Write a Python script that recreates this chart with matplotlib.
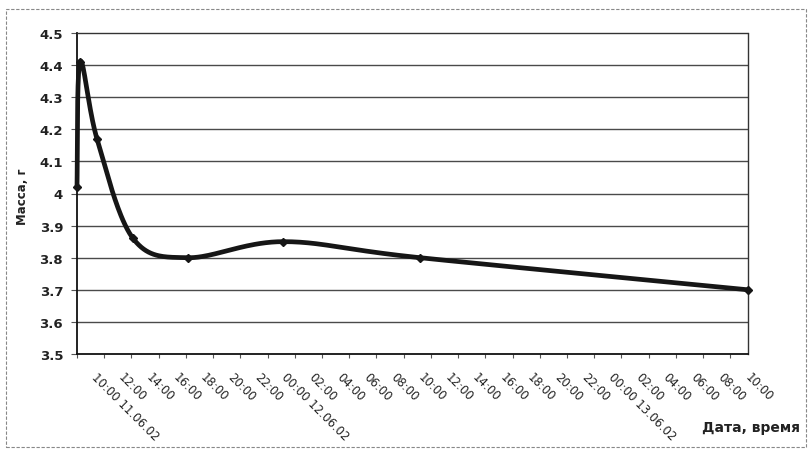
import matplotlib
matplotlib.use("Agg")
import matplotlib.pyplot as plt
import numpy as np
from matplotlib.transforms import ScaledTranslation
from matplotlib.patches import Rectangle

# Sample mass over time; time is counted in hours from 11.06.02 10:00
hours = [0.0, 0.22, 1.47, 4.12, 8.16, 15.15, 25.2, 49.3]
mass = [4.02, 4.41, 4.17, 3.86, 3.80, 3.85, 3.80, 3.70]

tick_hours = list(range(0, 49, 2))
tick_labels = [
    "10:00 11.06.02", "12:00", "14:00", "16:00", "18:00", "20:00", "22:00",
    "00:00 12.06.02", "02:00", "04:00", "06:00", "08:00", "10:00", "12:00",
    "14:00", "16:00", "18:00", "20:00", "22:00",
    "00:00 13.06.02", "02:00", "04:00", "06:00", "08:00", "10:00",
]

y_ticks = [3.5, 3.6, 3.7, 3.8, 3.9, 4.0, 4.1, 4.2, 4.3, 4.4, 4.5]
y_tick_labels = ["3.5", "3.6", "3.7", "3.8", "3.9", "4", "4.1", "4.2", "4.3", "4.4", "4.5"]

x_title = "Дата, время"
y_title = "Масса, г"


def smooth_curve(x, y, n=40):
    """Cubic Bezier smoothing through every point (Catmull-Rom style)."""
    pts = np.column_stack([x, y]).astype(float)
    ext = np.vstack([pts[0], pts, pts[-1]])
    t = np.linspace(0, 1, n)[:, None]
    parts = []
    for i in range(len(pts) - 1):
        p0, p1, p2, p3 = ext[i], ext[i + 1], ext[i + 2], ext[i + 3]
        c1 = p1 + (p2 - p0) / 6.0
        c2 = p2 - (p3 - p1) / 6.0
        seg = ((1 - t) ** 3) * p1 + 3 * ((1 - t) ** 2) * t * c1 \
            + 3 * (1 - t) * (t ** 2) * c2 + (t ** 3) * p2
        parts.append(seg if i == 0 else seg[1:])
    return np.vstack(parts)


W, H = 812, 452
fig = plt.figure(figsize=(W / 100, H / 100), dpi=100)
fig.patch.set_facecolor("white")

left, right, top, bottom = 77, 748, 34, 355
ax = fig.add_axes([left / W, 1 - bottom / H, (right - left) / W, (bottom - top) / H])
ax.set_facecolor("white")

ax.set_xlim(hours[0], hours[-1])
ax.set_ylim(y_ticks[0], y_ticks[-1])

# horizontal gridlines inside the plot area
for yv in y_ticks[1:-1]:
    ax.axhline(yv, color="#4a4a4a", lw=1.0, zorder=1)

curve = smooth_curve(hours, mass)
ax.plot(curve[:, 0], curve[:, 1], color="#161616", lw=3.4,
        solid_capstyle="round", solid_joinstyle="round", zorder=3, clip_on=False)
ax.plot(hours, mass, linestyle="none", marker="D", markersize=4.5,
        color="#161616", zorder=4, clip_on=False)

# spines: solid axes, dotted plot-area border
for side in ("left", "bottom"):
    ax.spines[side].set_color("#111111")
    ax.spines[side].set_linewidth(1.3)
for side in ("top", "right"):
    ax.spines[side].set_color("#333333")
    ax.spines[side].set_linewidth(1.0)
    ax.spines[side].set_linestyle((0, (1, 1)))

ax.set_yticks(y_ticks)
ax.set_yticklabels(y_tick_labels, fontfamily="DejaVu Sans", fontweight="bold",
                   fontsize=9.5, color="#222222")
ax.tick_params(axis="y", direction="out", length=4, width=0.8, pad=6,
               color="#555555")

ax.set_xticks(tick_hours)
ax.set_xticklabels(tick_labels, fontfamily="DejaVu Sans", fontsize=8.5,
                   color="#222222")
ax.tick_params(axis="x", direction="out", length=3, width=0.8, pad=0,
               color="#555555")
shift = ScaledTranslation(21 / 100, -12 / 100, fig.dpi_scale_trans)
for lab in ax.get_xticklabels():
    lab.set_rotation(-45)
    lab.set_ha("left")
    lab.set_va("top")
    lab.set_rotation_mode("anchor")
    lab.set_transform(lab.get_transform() + shift)

fig.text(22 / W, 1 - 197 / H, y_title, rotation=90, ha="center", va="center",
         fontfamily="DejaVu Sans", fontweight="bold", fontsize=8.5, color="#222222")
fig.text(751 / W, 1 - 428 / H, x_title, ha="center", va="center",
         fontfamily="DejaVu Sans", fontweight="bold", fontsize=10, color="#222222")

# chart-area frame
fig.add_artist(Rectangle((6 / W, 1 - 448 / H), (806 - 6) / W, (448 - 10) / H,
                         transform=fig.transFigure, fill=False,
                         edgecolor="#888888", lw=0.8, linestyle=(0, (3, 1.5))))

fig.savefig("out.png", dpi=100, facecolor="white")
